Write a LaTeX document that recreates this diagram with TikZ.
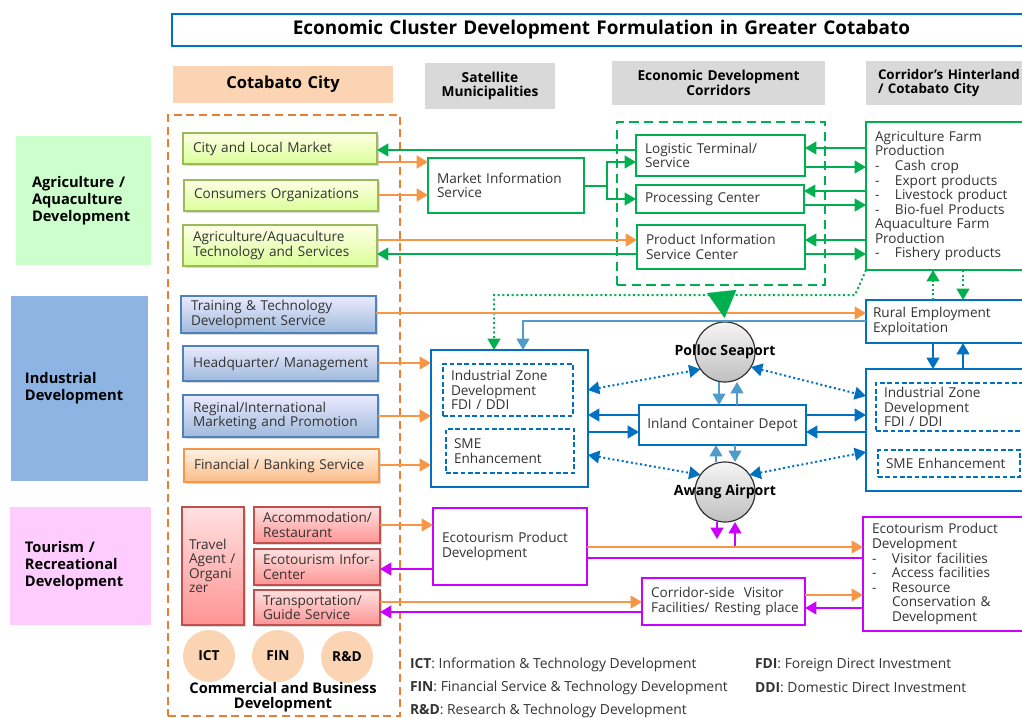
\documentclass[tikz,border=0pt]{standalone}
\usepackage{fontspec}
\setmainfont{Open Sans}
\usetikzlibrary{arrows.meta,shadows}

\definecolor{cgreen}{HTML}{00B050}
\definecolor{corange}{HTML}{F79646}
\definecolor{cframe}{HTML}{ED7D31}
\definecolor{cblue}{HTML}{0070C0}
\definecolor{clblue}{HTML}{4F9BC9}
\definecolor{cmag}{HTML}{CC00FF}
\definecolor{cpeach}{HTML}{FBD4B4}
\definecolor{cgray}{HTML}{D9D9D9}
\definecolor{ctext}{HTML}{333333}
\definecolor{ccatg}{HTML}{CCFFCC}
\definecolor{ccatb}{HTML}{8DB4E2}
\definecolor{ccatp}{HTML}{FFCCFF}
\definecolor{cgbd}{HTML}{9BBB59}
\definecolor{cbbd}{HTML}{4F81BD}
\definecolor{crbd}{HTML}{C0504D}

\newcommand{\upx}{0.75pt}
\newcommand{\body}{\fontsize{10.2}{10.9}\selectfont}
\newcommand{\itm}{\makebox[15pt][l]{-}}

\begin{document}
\begin{tikzpicture}[x=0.75pt,y=-0.75pt,>={Triangle[width=9.5pt,length=8.5pt]},
  every node/.style={inner ysep=0pt,outer sep=0pt,text=ctext},
  sz/.style n args={3}{anchor=north west,minimum width=#1*\upx,minimum height=#2*\upx,
    inner xsep=#3*\upx,text width=#1*\upx-2*#3*\upx,align=left,
    execute at begin node={\hyphenpenalty=10000\rightskip=0pt plus 1fil minus 80pt\relax}},
  ctr/.style={align=center,execute at begin node={\leftskip=0pt plus 1fil\rightskip=0pt plus 1fil minus 80pt\parfillskip=0pt\relax}},
  cat/.style={font=\bfseries\fontsize{11}{12.75}\selectfont,text=black},
  hdr/.style={fill=cgray,font=\bfseries\fontsize{10.3}{11}\selectfont,text=black},
  shd/.style={drop shadow={opacity=0.3,shadow xshift=1.2pt,shadow yshift=-1.2pt}},
  gbox/.style={font=\body,draw=cgbd,line width=0.9pt,top color=green!4!yellow!10,bottom color=green!35!yellow!40,shd},
  bbox/.style={font=\body,draw=cbbd,line width=0.9pt,top color=blue!8,bottom color=cbbd!55,shd},
  obox/.style={font=\body,draw=corange,line width=0.9pt,top color=orange!10,bottom color=corange!65,shd},
  rbox/.style={font=\body,draw=crbd,line width=0.9pt,top color=red!12,bottom color=red!42,shd},
  wgb/.style={font=\body,draw=cgreen,line width=1.5pt,fill=white},
  wbb/.style={font=\body,draw=cblue,line width=1.5pt,fill=white},
  dbb/.style={font=\body,draw=cblue,line width=1.2pt,dash pattern=on 3.5pt off 2pt,fill=white},
  wmb/.style={font=\body,draw=cmag,line width=1.8pt,fill=white},
  pch/.style={circle,fill=cpeach,minimum size=52*\upx,inner sep=0pt,font=\bfseries\fontsize{10.3}{11}\selectfont,text=black},
  port/.style={circle,draw=black!80,line width=0.9pt,top color=gray!8,bottom color=gray!50,minimum size=60*\upx,inner sep=0pt},
  pname/.style={font=\bfseries\fontsize{10.6}{11}\selectfont,text=black},
  leg/.style={font=\fontsize{10.4}{11}\selectfont,anchor=west,inner xsep=0pt},
  oa/.style={corange,line width=1.5pt,->},
  ga/.style={cgreen,line width=1.5pt,->},
  ba/.style={cblue,line width=1.5pt,->},
  la/.style={clblue,line width=1.5pt,->},
  ma/.style={cmag,line width=1.5pt,->},
  gd/.style={cgreen,line width=1.5pt,dotted,->},
  bd/.style={cblue,line width=1.5pt,dotted,<->}]
\useasboundingbox (0,0) rectangle (1022,718);

% title and column heads
\node[sz={859}{32}{0},ctr,draw=cblue,line width=1.5pt,font=\bfseries\fontsize{14.2}{15}\selectfont,text=black] (ttl) at (172,14) {Economic Cluster Development Formulation in Greater Cotabato};
\node[hdr,sz={220}{37}{0},ctr,fill=cpeach,font=\bfseries\fontsize{12.4}{14}\selectfont] (hcc) at (173,66) {Cotabato City};
\node[hdr,sz={130}{46}{0},ctr] (hsm) at (425,63) {Satellite\\Municipalities};
\node[hdr,sz={213}{44}{0},ctr] (hed) at (612,61) {Economic Development\\Corridors};
\node[hdr,sz={170}{44}{12},font=\bfseries\fontsize{10}{11}\selectfont] (hch) at (866,61) {Corridor’s Hinterland\\/ Cotabato City};

% sectors
\node[cat,sz={135}{129}{16},fill=ccatg] (cag) at (16,136) {Agriculture /\\Aquaculture\\Development};
\node[cat,sz={137}{185}{14},fill=ccatb] (cin) at (11,296) {Industrial\\Development};
\node[cat,sz={141}{118}{15},fill=ccatp] (ctr) at (10,507) {Tourism /\\Recreational\\Development};

% Cotabato City
\node[draw=cframe,line width=1.6pt,dash pattern=on 6pt off 3.5pt,sz={232}{601}{0}] (ccf) at (168,115) {};
\node[gbox,sz={194}{31}{10}] (clm) at (183,133) {City and Local Market};
\node[gbox,sz={194}{31}{10}] (cor) at (184,180) {Consumers Organizations};
\node[gbox,sz={194}{41}{10}] (aat) at (183,225) {Agriculture/Aquaculture\\Technology and Services};
\node[bbox,sz={195}{37}{10}] (ttd) at (181,296) {Training \& Technology\\Development Service};
\node[bbox,sz={195}{35}{10}] (hqm) at (183,346) {Headquarter/ Management};
\node[bbox,sz={195}{42}{10}] (rim) at (183,395) {Reginal/International\\Marketing and Promotion};
\node[obox,sz={195}{33}{10}] (fbs) at (184,449) {Financial / Banking Service};
\node[rbox,sz={62}{118}{7}] (tao) at (182,507) {Travel\\Agent /\\Organi\\zer};
\node[rbox,sz={126}{36}{9}] (acr) at (254,507) {Accommodation/\\Restaurant};
\node[rbox,sz={126}{36}{9}] (eic) at (254,549) {Ecotourism Infor-\\Center};
\node[rbox,sz={126}{35}{9}] (tgs) at (254,590) {Transportation/\\Guide Service};
\node[pch] (ict) at (209,656) {ICT};
\node[pch] (fin) at (278,656) {FIN};
\node[pch] (rnd) at (347,657) {R\&D};
\node[font=\bfseries\fontsize{11}{11.3}\selectfont,text=black,align=center] (cbd) at (283,697) {Commercial and Business\\Development};

% satellite municipalities and corridors
\node[wgb,sz={156}{55}{9}] (mis) at (428,158) {Market Information\\Service};
\node[draw=cgreen,line width=2.2pt,dash pattern=on 7pt off 4pt,sz={208}{163}{0}] (edc) at (617,122) {};
\node[wgb,sz={169}{41}{9}] (lts) at (636,135) {Logistic Terminal/\\Service};
\node[wgb,sz={168}{28}{9}] (prc) at (636,185) {Processing Center};
\node[wgb,sz={168}{44}{9}] (pis) at (637,225) {Product Information\\Service Center};
\node[wgb,sz={170}{148}{9}] (afp) at (866,122) {Agriculture Farm\\Production\\\itm Cash crop\\\itm Export products\\\itm Livestock product\\\itm Bio-fuel Products\\Aquaculture Farm\\Production\\\itm Fishery products};
\node[wbb,sz={170}{43}{7}] (rue) at (866,300) {Rural Employment\\Exploitation};
\node[wbb,sz={157}{137}{0}] (izl) at (431,350) {};
\node[dbb,sz={130}{52}{8}] (izdl) at (443,364) {Industrial Zone\\Development\\FDI / DDI};
\node[dbb,sz={128}{44}{8}] (smel) at (446,429) {SME\\Enhancement};
\node[wbb,sz={167}{40}{0},ctr] (icd) at (639,405) {Inland Container Depot};
\node[wbb,sz={170}{122}{0}] (izr) at (866,369) {};
\node[dbb,sz={160}{48}{8}] (izdr) at (876,383) {Industrial Zone\\Development\\FDI / DDI};
\node[dbb,sz={142}{27}{8}] (smer) at (878,450) {SME Enhancement};
\node[port,label={[pname]center:Polloc Seaport}] (pol) at (725,352) {};
\node[port,label={[pname]center:Awang Airport}] (awa) at (725,492) {};
\node[wmb,sz={154}{77}{9}] (epl) at (433,508) {Ecotourism Product\\Development};
\node[wmb,sz={163}{47}{9}] (cvf) at (642,578) {Corridor-side\ \ Visitor\\Facilities/ Resting place};
\node[wmb,sz={170}{114}{9}] (epr) at (863,517) {Ecotourism Product\\Development\\\itm Visitor facilities\\\itm Access facilities\\\itm Resource\\\hspace*{15pt}Conservation \&\\\hspace*{15pt}Development};

% legend
\node[leg] (lict) at (410,665) {\textbf{ICT}: Information \& Technology Development};
\node[leg] (lfin) at (410,688) {\textbf{FIN}: Financial Service \& Technology Development};
\node[leg] (lrnd) at (410,711) {\textbf{R\&D}: Research \& Technology Development};
\node[leg] (lfdi) at (755,665) {\textbf{FDI}: Foreign Direct Investment};
\node[leg] (lddi) at (755,688) {\textbf{DDI}: Domestic Direct Investment};

% agriculture flows
\draw[ga] (lts.west |- 0,150) -- (clm.east |- 0,150);
\draw[oa] (clm.east |- 0,162) -- (mis.west |- 0,162);
\draw[oa] (cor.east |- 0,195) -- (mis.west |- 0,195);
\draw[cgreen,line width=1.5pt] (mis.east) -- ++(23,0) coordinate (mj);
\draw[ga] (mj) |- (lts.west |- 0,162);
\draw[ga] (mj) |- (prc.west);
\draw[oa] (aat.east |- 0,240) -- (pis.west |- 0,240);
\draw[ga] (pis.west |- 0,254) -- (aat.east |- 0,254);
\draw[ga] (afp.west |- 0,148) -- (lts.east |- 0,148);
\draw[ga] (lts.east |- 0,167) -- (afp.west |- 0,167);
\draw[ga] (afp.west |- 0,191) -- (prc.east |- 0,191);
\draw[ga] (prc.east |- 0,205) -- (afp.west |- 0,205);
\draw[ga] (afp.west |- 0,240) -- (pis.east |- 0,240);
\draw[ga] (pis.east |- 0,254) -- (afp.west |- 0,254);
\draw[gd] (afp.south west) -- ++(-11,25) -| (izl.north -| 494,0);
\draw[gd] (rue.north -| 933,0) -- (afp.south -| 933,0);
\draw[gd] (afp.south -| 963,0) -- (rue.north -| 963,0);

% industrial flows
\draw[oa] (ttd.east |- 0,313) -- (rue.west |- 0,313);
\draw[la] (rue.west |- 0,321) -| (izl.north -| 523,0);
\draw[oa] (hqm.east |- 0,363) -- (izl.west |- 0,363);
\draw[oa] (rim.east |- 0,416) -- (izl.west |- 0,416);
\draw[oa] (fbs.east |- 0,465) -- (izl.west |- 0,465);
\draw[ba] (rue.south -| 933,0) -- (izr.north -| 933,0);
\draw[ba] (izr.north -| 963,0) -- (rue.south -| 963,0);
\draw[bd] (izl.east |- 0,390) -- (pol.215);
\draw[bd] (pol.330) -- (izr.west |- 0,396);
\draw[bd] (izl.east |- 0,455) -- (awa.145);
\draw[bd] (awa.35) -- (izr.west |- 0,452);
\draw[ba] (icd.west |- 0,415) -- (izl.east |- 0,415);
\draw[ba] (izl.east |- 0,432) -- (icd.west |- 0,432);
\draw[ba] (icd.east |- 0,415) -- (izr.west |- 0,415);
\draw[ba] (izr.west |- 0,432) -- (icd.east |- 0,432);
\draw[la] (pol.south -| 719,0) -- (icd.north -| 719,0);
\draw[la] (icd.north -| 737,0) -- (pol.south -| 737,0);
\draw[la] (awa.north -| 716,0) -- (icd.south -| 716,0);
\draw[la] (icd.south -| 735,0) -- (awa.north -| 735,0);
\draw[cgreen,line width=0.1pt,shorten <=4.5pt,shorten >=3pt,-{Triangle[width=22pt,length=20pt]}] (edc.south) -- (pol.north);

% tourism flows
\draw[oa] (acr.east |- 0,525) -- (epl.west |- 0,525);
\draw[ma] (epl.west |- 0,569) -- (eic.east |- 0,569);
\draw[oa] (tgs.east |- 0,602) -- (cvf.west |- 0,602);
\draw[ma] (cvf.west |- 0,612) -- (tgs.east |- 0,612);
\draw[oa] (epl.east |- 0,547) -- (epr.west |- 0,547);
\draw[cmag,line width=1.5pt] (epr.west |- 0,558) -- (epl.east |- 0,558);
\draw[oa] (cvf.east |- 0,595) -- (epr.west |- 0,595);
\draw[ma] (epr.west |- 0,608) -- (cvf.east |- 0,608);
\draw[ma] (awa.south -| 717,0) -- ++(0,17);
\draw[ma,<-] (awa.south -| 735,0) -- ++(0,24);
\end{tikzpicture}
\end{document}
